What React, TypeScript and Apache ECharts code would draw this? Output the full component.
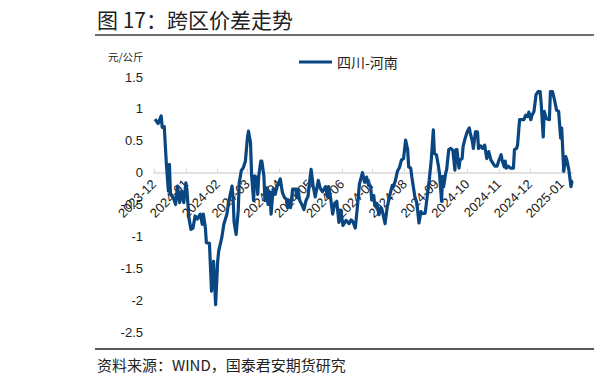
import React, { useEffect, useRef } from "react";
import * as echarts from "echarts";

const dates = [
  "2023-12-02","2023-12-05","2023-12-08","2023-12-09","2023-12-11","2023-12-13","2023-12-15","2023-12-16","2023-12-17","2023-12-20",
  "2023-12-22","2023-12-24","2023-12-26","2023-12-28","2023-12-30","2024-01-01","2024-01-02","2024-01-04","2024-01-06","2024-01-08",
  "2024-01-10","2024-01-12","2024-01-15","2024-01-17","2024-01-18","2024-01-20","2024-01-21","2024-01-24","2024-01-26","2024-01-28",
  "2024-01-30","2024-02-01","2024-02-02","2024-02-05","2024-02-07","2024-02-10","2024-02-12","2024-02-15","2024-02-16","2024-02-17",
  "2024-02-19","2024-02-21","2024-02-22","2024-02-24","2024-02-26","2024-02-28","2024-03-01","2024-03-02","2024-03-04","2024-03-05",
  "2024-03-07","2024-03-08","2024-03-10","2024-03-11","2024-03-12","2024-03-14","2024-03-15","2024-03-17","2024-03-18","2024-03-20",
  "2024-03-21","2024-03-23","2024-03-24","2024-03-26","2024-03-28","2024-03-30","2024-04-02","2024-04-04","2024-04-06","2024-04-08",
  "2024-04-09","2024-04-11","2024-04-12","2024-04-14","2024-04-17","2024-04-18","2024-04-19","2024-04-21","2024-04-23","2024-04-25",
  "2024-04-27","2024-04-29","2024-04-30","2024-05-02","2024-05-04","2024-05-06","2024-05-09","2024-05-11","2024-05-13","2024-05-16",
  "2024-05-18","2024-05-19","2024-05-21","2024-05-23","2024-05-25","2024-05-27","2024-05-29","2024-05-31","2024-06-02","2024-06-05",
  "2024-06-08","2024-06-10","2024-06-12","2024-06-14","2024-06-16","2024-06-18","2024-06-21","2024-06-23","2024-06-25","2024-06-27",
  "2024-06-29","2024-06-30","2024-07-02","2024-07-03","2024-07-05","2024-07-07","2024-07-09","2024-07-10","2024-07-13","2024-07-15",
  "2024-07-18","2024-07-20","2024-07-21","2024-07-23","2024-07-25","2024-07-27","2024-07-29","2024-07-31","2024-08-02","2024-08-04",
  "2024-08-05","2024-08-07","2024-08-08","2024-08-11","2024-08-13","2024-08-15","2024-08-17","2024-08-18","2024-08-21","2024-08-23",
  "2024-08-25","2024-08-27","2024-08-29","2024-08-30","2024-09-01","2024-09-03","2024-09-04","2024-09-06","2024-09-07","2024-09-08",
  "2024-09-10","2024-09-11","2024-09-13","2024-09-15","2024-09-17","2024-09-19","2024-09-20","2024-09-21","2024-09-23","2024-09-24",
  "2024-09-26","2024-09-27","2024-09-29","2024-10-01","2024-10-03","2024-10-04","2024-10-06","2024-10-07","2024-10-09","2024-10-11",
  "2024-10-12","2024-10-14","2024-10-16","2024-10-18","2024-10-20","2024-10-22","2024-10-24","2024-10-26","2024-10-28","2024-10-30",
  "2024-11-01","2024-11-03","2024-11-04","2024-11-06","2024-11-07","2024-11-08","2024-11-10","2024-11-12","2024-11-15","2024-11-16",
  "2024-11-18","2024-11-19","2024-11-21","2024-11-23","2024-11-25","2024-11-27","2024-11-29","2024-11-30","2024-12-02","2024-12-03",
  "2024-12-05","2024-12-07","2024-12-09","2024-12-11","2024-12-12","2024-12-14","2024-12-15","2024-12-17","2024-12-20","2024-12-21",
  "2024-12-23","2024-12-25","2024-12-27","2024-12-29","2024-12-31","2025-01-01","2025-01-03","2025-01-05","2025-01-06","2025-01-08",
  "2025-01-10","2025-01-11","2025-01-12",
];

const spreadSichuanHenan = [
  0.84, 0.77, 0.89, 0.71, 0.72, 0.15, -0.29, 0.13, -0.32, -0.40,
  -0.50, -0.21, -0.47, -0.29, -0.47, -0.16, -0.26, -0.71, -0.89, -0.87,
  -0.68, -0.73, -0.65, -0.81, -0.65, -0.86, -1.10, -1.11, -1.86, -1.39,
  -2.07, -1.39, -1.23, -1.02, -0.81, -0.65, -0.44, -0.21, -0.39, -0.78,
  -0.97, -0.60, -0.16, 0.03, 0.08, 0.18, 0.55, 0.65, 0.47, -0.03,
  -0.44, -0.05, -0.08, -0.34, -0.05, 0.18, 0.18, -0.05, -0.44, -0.24,
  -0.50, -0.31, -0.65, -0.26, -0.34, -0.21, -0.10, -0.31, -0.39, -0.42,
  -0.55, -0.44, -0.55, -0.26, -0.26, -0.39, -0.26, -0.44, -0.50, -0.58,
  -0.44, -0.37, -0.21, 0.05, -0.21, -0.38, -0.12, -0.25, -0.30, -0.22,
  -0.38, -0.22, -0.40, -0.65, -0.48, -0.45, -0.78, -0.60, -0.83, -0.75,
  -0.80, -0.74, -0.78, -0.87, -0.55, -0.18, 0.00, -0.15, -0.07, -0.20,
  -0.22, -0.43, -0.36, -0.52, -0.48, -0.66, -0.55, -0.58, -0.80, -0.55,
  -0.33, -0.20, -0.22, -0.13, 0.02, 0.08, 0.20, 0.22, 0.51, 0.36,
  0.09, 0.07, -0.06, -0.38, -0.48, -0.79, -0.61, -0.64, -0.64, -0.38,
  -0.12, 0.20, 0.67, 0.30, 0.28, 0.10, -0.01, -0.45, -0.06, -0.22,
  -0.01, 0.05, 0.36, 0.38, 0.35, 0.04, 0.36, 0.36, 0.07, 0.20,
  0.22, 0.41, 0.54, 0.64, 0.70, 0.62, 0.49, 0.38, 0.64, 0.64,
  0.38, 0.42, 0.38, 0.43, 0.22, 0.33, 0.20, 0.15, 0.10, 0.10,
  0.20, 0.28, 0.20, 0.09, 0.18, 0.07, 0.10, 0.07, 0.07, 0.36,
  0.38, 0.43, 0.83, 0.83, 0.83, 0.90, 0.88, 0.95, 0.83, 0.90,
  0.96, 1.22, 1.27, 1.27, 1.09, 0.56, 0.96, 0.85, 0.83, 1.27,
  1.27, 1.14, 0.98, 0.96, 0.54, 0.70, 0.02, 0.25, 0.20, 0.04,
  -0.22, -0.14, -0.13,
];

const seriesName = "四川-河南";
const titleText = "图 17：跨区价差走势";
const unitText = "元/公斤";
const sourceText = "资料来源：WIND，国泰君安期货研究";
const xMin = "2023-12-01";
const xMax = "2025-01-12";
const yMin = -2.5;
const yMax = 1.5;
const yStep = 0.5;

const CJK = '"Noto Sans CJK SC", "Liberation Sans", sans-serif';
const LATIN = '"Liberation Sans", Arial, sans-serif';

// plot box
const G_LEFT = 154;
const G_RIGHT = 21;
const G_TOP = 77;
const G_BOTTOM = 53;

export default function App() {
  const ref = useRef<HTMLDivElement>(null);

  useEffect(() => {
    if (!ref.current) return;
    const chart = echarts.init(ref.current, null, { renderer: "svg" });
    const pad = (n: number) => (n < 10 ? "0" + n : "" + n);
    const plotH = 385 - G_TOP - G_BOTTOM;
    const zeroY = G_TOP + (plotH * (yMax - 0)) / (yMax - yMin);
    chart.setOption({
      animation: false,
      backgroundColor: "#ffffff",
      grid: [
        { left: G_LEFT, right: G_RIGHT, top: G_TOP, bottom: G_BOTTOM, containLabel: false, outerBoundsMode: "none" },
        { left: G_LEFT, right: G_RIGHT, top: G_TOP, bottom: 385 - zeroY, containLabel: false, outerBoundsMode: "none" },
      ],
      legend: {
        show: true,
        left: 294,
        top: 50,
        icon: "rect",
        itemWidth: 33,
        itemHeight: 3,
        itemGap: 4,
        textStyle: { fontFamily: CJK, fontSize: 14, color: "#222" },
        data: [seriesName],
      },
      xAxis: [
        {
          type: "time",
          gridIndex: 0,
          min: xMin,
          max: xMax,
          show: false,
        },
        {
          type: "time",
          gridIndex: 1,
          min: xMin,
          max: xMax,
          splitNumber: 14,
          position: "bottom",
          axisLine: { onZero: false, lineStyle: { color: "#d9d9d9", width: 1.5 } },
          axisTick: { show: true, inside: true, length: 4, lineStyle: { color: "#d9d9d9", width: 1 } },
          splitLine: { show: false },
          axisLabel: {
            rotate: 45,
            margin: 9,
            fontFamily: LATIN,
            fontSize: 13,
            color: "#222",
            hideOverlap: false,
            formatter: (val: number) => {
              const d = new Date(val);
              return d.getFullYear() + "-" + pad(d.getMonth() + 1);
            },
          },
        },
      ],
      yAxis: [
        {
          type: "value",
          gridIndex: 0,
          min: yMin,
          max: yMax,
          interval: yStep,
          axisLine: { show: false },
          axisTick: { show: false },
          splitLine: { show: false },
          axisLabel: { margin: 11, fontFamily: LATIN, fontSize: 13, color: "#222" },
        },
        {
          type: "value",
          gridIndex: 1,
          min: 0,
          max: yMax,
          show: false,
        },
      ],
      series: [
        {
          name: seriesName,
          type: "line",
          xAxisIndex: 0,
          yAxisIndex: 0,
          symbol: "none",
          z: 3,
          data: dates.map((d, i) => [d, spreadSichuanHenan[i]]),
          lineStyle: { color: "#0a4681", width: 3.2, join: "round" },
          itemStyle: { color: "#0a4681" },
        },
        {
          name: "axis-helper",
          type: "line",
          xAxisIndex: 1,
          yAxisIndex: 1,
          symbol: "none",
          silent: true,
          data: [],
        },
      ],
      graphic: [
        { type: "text", left: 97, top: 8, style: { text: titleText, fontFamily: CJK, fontSize: 21, fill: "#222" } },
        { type: "line", shape: { x1: 95, y1: 35, x2: 594, y2: 35 }, style: { stroke: "#6e6e6e", lineWidth: 2 } },
        { type: "text", left: 108, top: 51, style: { text: unitText, fontFamily: CJK, fontSize: 10.5, fill: "#222" } },
        { type: "line", shape: { x1: 95, y1: 349, x2: 594, y2: 349 }, style: { stroke: "#222", lineWidth: 1.5 } },
        { type: "text", left: 97, top: 357, style: { text: sourceText, fontFamily: CJK, fontSize: 15, fill: "#222" } },
      ],
    });
    return () => chart.dispose();
  }, []);

  return (
    <div
      ref={ref}
      style={{ position: "fixed", left: 0, top: 0, width: 594, height: 385, background: "#fff" }}
    />
  );
}
